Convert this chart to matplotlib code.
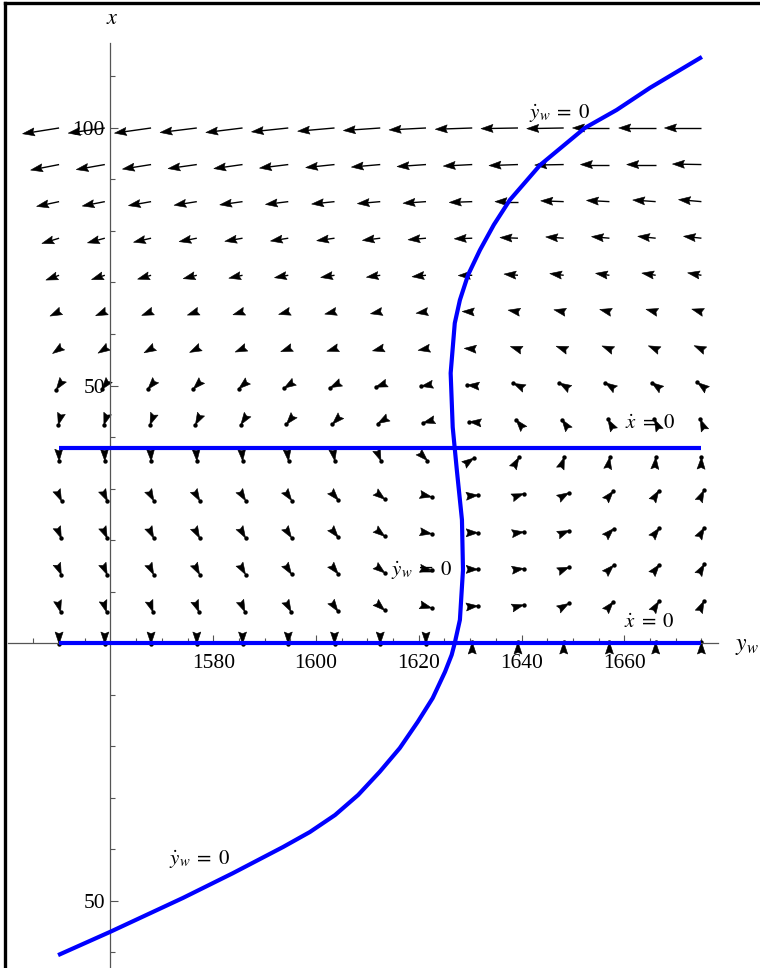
#!/usr/bin/env python3
# phase portrait: y_w - x plane with nullclines
import numpy as np
import matplotlib
matplotlib.use('Agg')
import matplotlib.pyplot as plt
from matplotlib.collections import PolyCollection, LineCollection

plt.rcParams['font.family'] = ['Liberation Serif', 'DejaVu Serif']
plt.rcParams['mathtext.fontset'] = 'stix'

# grid of the direction field
yw_grid = [1550, 1558.9, 1567.9, 1576.8, 1585.7, 1594.6, 1603.6, 1612.5,
           1621.4, 1630.4, 1639.3, 1648.2, 1657.1, 1666.1, 1675]
x_grid = [0, 7.1, 14.3, 21.4, 28.6, 35.7, 42.9, 50, 57.1, 64.3, 71.4,
          78.6, 85.7, 92.9, 100]

# arrow direction (degrees), one row per x_grid value (bottom -> top)
angles = [
    [270, 270, 270, 270, 270, 270, 270, 270, 270, 90, 90, 90, 90, 90, 90],
    [285, 287, 289, 291, 294, 298, 305, 318, 345, 5, 15, 30, 50, 58, 65],
    [292, 294, 296, 298, 300, 303, 309, 322, 350, 0, 8, 22, 45, 52, 60],
    [292, 294, 296, 298, 300, 303, 309, 322, 350, 0, 8, 22, 45, 52, 60],
    [294, 296, 298, 300, 302, 305, 311, 322, 348, 5, 20, 30, 50, 58, 65],
    [272, 272, 273, 274, 275, 277, 280, 292, 315, 35, 60, 70, 80, 85, 88],
    [255, 252, 249, 242, 236, 230, 225, 210, 195, 175, 130, 125, 120, 116, 113],
    [235, 232, 229, 225, 220, 212, 206, 200, 190, 175, 155, 150, 147, 145, 143],
    [215, 212, 209, 206, 203, 200, 197, 194, 190, 176, 162, 160, 158, 157, 156],
    [205, 203, 201, 199, 197, 195, 193, 191, 188, 178, 170, 168, 166, 165, 164],
    [200, 198, 196, 194, 192, 190, 189, 188, 186, 181, 175, 173, 172, 171, 170],
    [197, 195, 193, 191, 190, 189, 188, 187, 185, 182, 178, 176, 175, 174, 174],
    [192, 191, 190, 189, 188, 187, 186, 185, 184, 182, 180, 178, 177, 176, 175],
    [191, 190, 189, 188, 188, 187, 186, 185, 184, 183, 182, 181, 180, 180, 179],
    [189, 188, 188, 187, 187, 186, 185, 184, 183, 182, 181, 181, 180, 180, 180],
]
# relative arrow magnitude per row
magnitude = [1, 6, 6, 6, 6, 2, 3, 5, 8, 10, 14, 18, 23, 29, 37]

# ydot_w = 0 curve
curve_yw = [1549.8, 1559.9, 1574.1, 1583.8, 1593.6, 1598.8, 1603.7, 1608.2,
            1612.4, 1616.3, 1619.8, 1622.7, 1625.1, 1626.4, 1627.0, 1628.0,
            1628.6, 1628.4, 1627.4, 1626.6, 1626.2, 1627.0, 1628.0, 1629.6,
            1631.9, 1634.6, 1637.7, 1643.6, 1652.3, 1658.5, 1665.0, 1675.1]
curve_x = [-60.6, -56.1, -49.5, -44.7, -39.6, -36.7, -33.4, -29.5,
           -25.0, -20.4, -15.3, -10.7, -5.6, -2.3, 0.0, 4.5,
           14.2, 23.9, 33.6, 41.9, 52.4, 62.1, 66.6, 71.5,
           76.3, 81.2, 86.0, 92.8, 100.0, 103.5, 107.8, 113.8]

# xdot = 0 lines
xdot_levels = [0, 37.8]

PX = 1 / 5.145          # data units per pixel
HEAD_L = 12 * PX
HEAD_W = 8 * PX


def draw_field(ax):
    heads, shafts, tips = [], [], []
    for i, xv in enumerate(x_grid):
        L = magnitude[i] * PX
        for j, yv in enumerate(yw_grid):
            a = np.radians(angles[i][j])
            d = np.array([np.cos(a), np.sin(a)])
            n = np.array([-d[1], d[0]])
            p = np.array([yv, xv])
            tip = p + L * d
            base = tip - HEAD_L * d
            heads.append([tip, base + n * HEAD_W / 2, tip - 0.86 * HEAD_L * d,
                          base - n * HEAD_W / 2])
            if L > 0.7 * HEAD_L:
                shafts.append([p, tip - 0.7 * HEAD_L * d])
            if i <= 7:
                tips.append(tip)
    ax.add_collection(LineCollection(shafts, colors='black', linewidths=1.0, zorder=2))
    ax.add_collection(PolyCollection(heads, facecolors='black', edgecolors='black',
                                     linewidths=0.4, zorder=2))
    tips = np.array(tips)
    ax.scatter(tips[:, 0], tips[:, 1], s=10, color='black', zorder=2, linewidths=0)


def main():
    fig = plt.figure(figsize=(7.6, 9.68), dpi=100)
    ax = fig.add_axes([0, 0, 1, 1])
    ax.set_xlim(1538.5, 1686.4)
    ax.set_ylim(-63.1, 124.85)

    draw_field(ax)

    for lv in xdot_levels:
        ax.plot([yw_grid[0], yw_grid[-1]], [lv, lv], color='#0000ff', lw=3,
                solid_capstyle='butt', zorder=3)
    ax.plot(curve_yw, curve_x, color='#0000ff', lw=3, solid_capstyle='butt',
            solid_joinstyle='round', zorder=3)

    # axes through the origin (1560, 0)
    for s in ['top', 'right']:
        ax.spines[s].set_visible(False)
    ax.spines['left'].set_position(('data', 1560))
    ax.spines['bottom'].set_position(('data', 0))
    ax.spines['left'].set_bounds(-64, 116.5)
    ax.spines['bottom'].set_bounds(1540, 1678.3)
    for s in ['left', 'bottom']:
        ax.spines[s].set_color('#555555')
        ax.spines[s].set_linewidth(0.9)

    ax.set_xticks([1580, 1600, 1620, 1640, 1660])
    ax.set_xticklabels(['1580', '1600', '1620', '1640', '1660'])
    ax.set_xticks([v for v in range(1545, 1680, 5) if v % 20 != 0 and v != 1560], minor=True)
    ax.set_yticks([-50, 50, 100])
    ax.set_yticklabels(['50', '50', '100'])
    ax.set_yticks([v for v in range(-60, 120, 10) if v % 50 != 0], minor=True)
    ax.tick_params(which='both', direction='in', color='#555555', width=0.8,
                   labelsize=15.5)
    ax.tick_params(which='major', length=6)
    ax.tick_params(which='minor', length=3.8)
    ax.tick_params(axis='x', pad=8)
    ax.tick_params(axis='y', pad=4)

    ax.text(1560.3, 121, '$x$', fontsize=16, ha='center', va='center')
    ax.text(1681.5, -0.6, '$y_w$', fontsize=17, ha='left', va='center')

    lab = dict(fontsize=15, ha='center', va='center', zorder=4)
    ax.text(1647.5, 102.9, r'$\dot{y}_w\;=\;0$', **lab)
    ax.text(1620.6, 14.2, r'$\dot{y}_w\;=\;0$', **lab)
    ax.text(1577.4, -41.9, r'$\dot{y}_w\;=\;0$', **lab)
    ax.text(1665.0, 42.7, r'$\dot{x}\;=\;0$', **lab)
    ax.text(1664.8, 3.9, r'$\dot{x}\;=\;0$', **lab)

    # frame edges visible in the screenshot
    fig.add_artist(plt.Line2D([5 / 760, 5 / 760], [0, 1 - 3 / 968], color='black',
                              lw=2.4, transform=fig.transFigure))
    fig.add_artist(plt.Line2D([5 / 760, 1], [1 - 3 / 968, 1 - 3 / 968], color='black',
                              lw=2.4, transform=fig.transFigure))

    fig.savefig('out.png', dpi=100)


if __name__ == "__main__":
    main()
